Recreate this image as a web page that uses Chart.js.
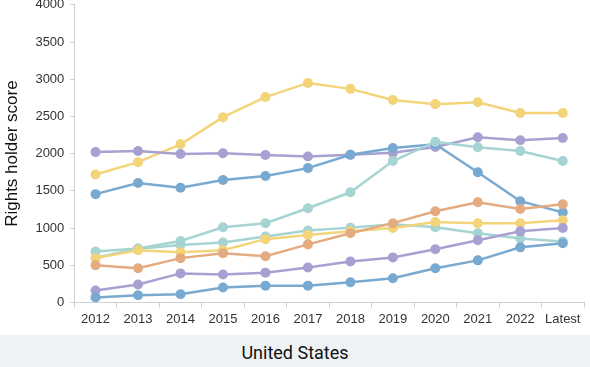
<!DOCTYPE html>
<html>
<head>
<meta charset="utf-8">
<script src="https://cdn.jsdelivr.net/npm/chart.js@4"></script>
<style>
	body { margin: 0; background: #fff; overflow: hidden; }
	#wrap { width: 590px; height: 344px; margin-top: -9px; position: relative; }
	#footer {
		width: 590px; height: 32px; background: #eef2f5;
		font-family: Roboto, sans-serif; font-size: 18px; color: #111;
		text-align: center; line-height: 36px;
	}
</style>
</head>
<body>
<div id="wrap"><canvas id="myChart"></canvas></div>
<div id="footer">United States</div>
<script>
// categories
const years = ["2012", "2013", "2014", "2015", "2016", "2017", "2018", "2019", "2020", "2021", "2022", "Latest"];

// series values
const yellowHigh = [1720, 1885, 2125, 2490, 2760, 2950, 2870, 2720, 2665, 2690, 2545, 2545];
const purpleHigh = [2020, 2035, 1995, 2005, 1980, 1960, 1985, 2010, 2090, 2220, 2180, 2210];
const blueHigh = [1455, 1605, 1540, 1645, 1700, 1805, 1985, 2075, 2125, 1750, 1360, 1210];
const tealHigh = [685, 725, 825, 1010, 1065, 1265, 1480, 1900, 2160, 2085, 2035, 1900];
const tealLow = [600, 720, 770, 805, 885, 965, 1005, 1050, 1010, 930, 860, 820];
const yellowLow = [595, 700, 675, 700, 850, 905, 955, 1000, 1080, 1065, 1065, 1105];
const orange = [500, 460, 595, 660, 620, 780, 930, 1065, 1225, 1345, 1255, 1320];
const purpleLow = [160, 240, 390, 375, 400, 470, 550, 605, 715, 835, 955, 1000];
const blueLow = [65, 95, 110, 200, 225, 225, 270, 325, 460, 565, 740, 795];

const yTicks = [0, 500, 1000, 1500, 2000, 2500, 3000, 3500, 4000];

function line(data, color) {
	return {
		data: data,
		borderColor: color,
		backgroundColor: color,
		borderWidth: 2.5,
		pointRadius: 5,
		pointHoverRadius: 5,
		pointBorderWidth: 0,
		tension: 0,
	};
}

new Chart("myChart", {
	type: "line",
	data: {
		labels: years,
		datasets: [
			line(blueLow, "#78a9d1"),
			line(purpleLow, "#a7a1d2"),
			line(orange, "#e4ab80"),
			line(yellowLow, "#f3d479"),
			line(tealLow, "#a6d4d3"),
			line(tealHigh, "#a6d4d3"),
			line(blueHigh, "#78a9d1"),
			line(purpleHigh, "#a7a1d2"),
			line(yellowHigh, "#f3d479"),
		],
	},
	options: {
		responsive: true,
		maintainAspectRatio: false,
		animation: false,
		layout: { padding: { top: 0, right: 6, left: 2, bottom: 4 } },
		plugins: { legend: { display: false }, tooltip: { enabled: false } },
		scales: {
			x: {
				offset: true,
				grid: { offset: true, drawOnChartArea: false, color: "#cfcfcf", tickLength: 5 },
				border: { color: "#cfcfcf" },
				ticks: { color: "#333", font: { family: "Liberation Sans", size: 13 }, padding: 4 },
			},
			y: {
				min: 0,
				max: 4000,
				afterBuildTicks: (axis) => { axis.ticks = yTicks.map((v) => ({ value: v })); },
				grid: { drawOnChartArea: false, color: "#cfcfcf", tickLength: 4 },
				border: { color: "#cfcfcf" },
				ticks: {
					color: "#333",
					font: { family: "Liberation Sans", size: 13 },
					padding: 6,
					callback: (v) => String(v),
				},
				title: {
					display: true,
					text: "Rights holder score",
					color: "#111",
					font: { family: "Liberation Sans", size: 17 },
					padding: { top: 0, bottom: 7 },
				},
			},
		},
	},
});
</script>
</body>
</html>
